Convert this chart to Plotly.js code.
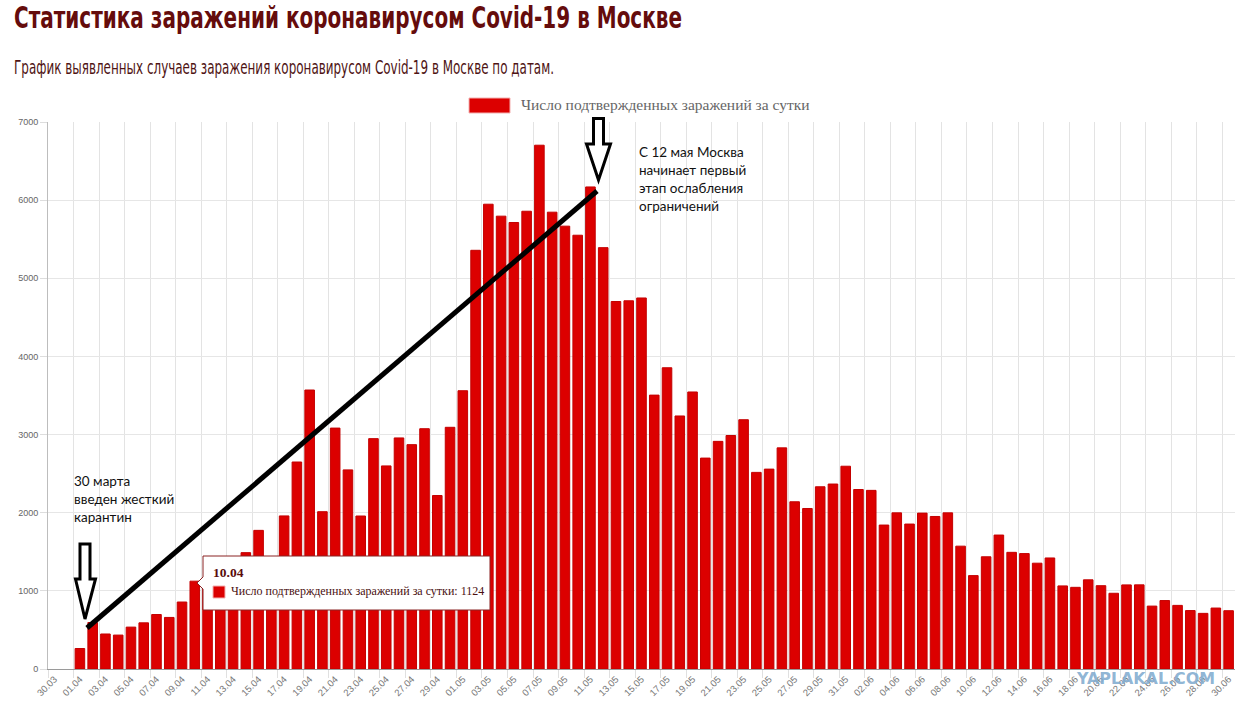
<!DOCTYPE html>
<html><head><meta charset="utf-8">
<script src="https://cdn.plot.ly/plotly-3.0.1.min.js"></script>
<style>html,body{margin:0;padding:0;background:#fff;overflow:hidden}#chart{width:1238px;height:708px}</style>
</head><body><div id="chart"></div>
<script>
const dates = ['30.03','31.03',
'01.04','02.04','03.04','04.04','05.04','06.04','07.04','08.04','09.04','10.04',
'11.04','12.04','13.04','14.04','15.04','16.04','17.04','18.04','19.04','20.04',
'21.04','22.04','23.04','24.04','25.04','26.04','27.04','28.04','29.04','30.04',
'01.05','02.05','03.05','04.05','05.05','06.05','07.05','08.05','09.05','10.05',
'11.05','12.05','13.05','14.05','15.05','16.05','17.05','18.05','19.05','20.05',
'21.05','22.05','23.05','24.05','25.05','26.05','27.05','28.05','29.05','30.05','31.05',
'01.06','02.06','03.06','04.06','05.06','06.06','07.06','08.06','09.06','10.06',
'11.06','12.06','13.06','14.06','15.06','16.06','17.06','18.06','19.06','20.06',
'21.06','22.06','23.06','24.06','25.06','26.06','27.06','28.06','29.06','30.06'];
const cases = [null,null,
262,595,448,434,536,591,697,660,857,1124,
1030,1355,1306,1489,1774,1370,1959,2649,3570,2013,
3083,2548,1958,2948,2599,2957,2871,3075,2220,3093,
3561,5358,5948,5795,5714,5858,6703,5846,5667,5551,
6169,5392,4703,4712,4748,3505,3855,3238,3545,2699,
2913,2988,3190,2516,2558,2830,2140,2054,2332,2367,2595,
2297,2286,1842,1998,1855,1995,1952,1998,1572,1195,
1436,1714,1493,1477,1354,1421,1063,1045,1141,1066,
969,1076,1077,805,876,814,748,712,780,746];
const yTicks = [0,1000,2000,3000,4000,5000,6000,7000];
const seriesName = 'Число подтвержденных заражений за сутки';
const tooltipDate = '10.04';
const titleText = 'Статистика заражений коронавирусом Covid-19 в Москве';
const subtitleText = 'График выявленных случаев заражения коронавирусом Covid-19 в Москве по датам.';
const note1 = ['30 марта','введен жесткий','карантин'];
const note2 = ['С 12 мая Москва','начинает первый','этап ослабления','ограничений'];
const watermark = 'YAPLAKAL.COM';

const L=48, R=1235, T=122, B=669;
function px(x){return (x-L)/(R-L);}
function py(y){return (B-y)/(B-T);}
function path(pts){return 'M '+pts.map(p=>px(p[0])+','+py(p[1])).join(' L ')+' Z';}

const idx = dates.map((d,i)=>i);
const major = idx.filter(i=>i%2===0);
const bounds = idx.filter(i=>i%2===0).map(i=>i-0.5);

const trace = {
  type:'bar', x: idx, y: cases, name: seriesName,
  marker:{color:'#dc0000', line:{color:'#c40000', width:1}},
  hoverinfo:'skip', showlegend:false
};

const ann = [];
function txt(x,y,text,font,anchor){ann.push({xref:'paper',yref:'paper',x:px(x),y:py(y),text:text,showarrow:false,xanchor:anchor||'left',yanchor:'middle',align:'left',font:font});}
txt(12,17,titleText,{family:'DejaVu Sans Condensed, DejaVu Sans, sans-serif',size:30,weight:700,color:'#650c0c'});
txt(12,67,subtitleText,{family:'DejaVu Sans Condensed, DejaVu Sans, sans-serif',size:19,color:'#4f1414'});
txt(519,105,seriesName,{family:'Liberation Serif, serif',size:15.5,color:'#666'});
note1.forEach((s,i)=>txt(72,481+i*18,s,{family:'Lato, Open Sans, sans-serif',size:13.5,color:'#111'}));
note2.forEach((s,i)=>txt(637,152+i*18,s,{family:'Lato, Open Sans, sans-serif',size:13.5,color:'#111'}));
// tooltip
const tipIdx = dates.indexOf(tooltipDate);
txt(211,572,tooltipDate,{family:'Liberation Serif, serif',size:13.5,weight:700,color:'#5a0c0c'});
txt(229,591,seriesName+': '+cases[tipIdx],{family:'Liberation Serif, serif',size:12,color:'#4a1010'});
// watermark
txt(1074,678,watermark,{family:'DejaVu Sans, sans-serif',size:16,weight:700,color:'rgba(130,172,208,0.9)'});

const shapes = [
  {type:'rect',xref:'paper',yref:'paper',x0:px(469),x1:px(510),y0:py(98),y1:py(113),fillcolor:'#dc0000',line:{color:'#f3b0b0',width:1}},
  {type:'path',xref:'paper',yref:'paper',path:path([[203,556],[490,556],[490,610],[203,610],[203,589],[197,583],[203,577]]),fillcolor:'#fff',line:{color:'#8a2323',width:1}},
  {type:'rect',xref:'paper',yref:'paper',x0:px(213),x1:px(225),y0:py(586),y1:py(598),fillcolor:'#dc0000',line:{color:'#f3b0b0',width:1}},
  {type:'line',xref:'paper',yref:'paper',x0:px(87),y0:py(628),x1:px(597),y1:py(191),line:{color:'#000',width:5}},
  {type:'path',xref:'paper',yref:'paper',path:path([[80,544],[90,544],[90,579],[95.5,579],[85,619],[75.5,579],[80,579]]),fillcolor:'#fff',line:{color:'#000',width:3}},
  {type:'path',xref:'paper',yref:'paper',path:path([[593.5,118.5],[603.5,118.5],[603.5,144],[610.5,144],[598.5,180],[586.5,144],[593.5,144]]),fillcolor:'#fff',line:{color:'#000',width:3}}
];

const layout = {
  width:1238, height:708,
  margin:{l:L, r:1238-R, t:T, b:708-B, pad:0},
  paper_bgcolor:'#fff', plot_bgcolor:'#fff',
  bargap:0.25,
  xaxis:{type:'linear', range:[-0.5, dates.length-0.5], tickmode:'array', tickvals:major, ticktext:major.map(i=>dates[i]),
    tickangle:-45, ticks:'', showgrid:false, zeroline:false, showline:true, linecolor:'#9a9a9a', linewidth:1,
    tickfont:{family:'Liberation Sans, sans-serif', size:9.5, color:'#777'},
    minor:{tickmode:'array', tickvals:bounds, showgrid:true, gridcolor:'#e3e3e3', gridwidth:1, ticks:'outside', ticklen:8, tickcolor:'#e0e0e0'}},
  yaxis:{range:[0,7000], tickmode:'array', tickvals:yTicks, showgrid:true, gridcolor:'#e6e6e6', zeroline:false,
    showline:true, linecolor:'#bdbdbd', ticks:'outside', ticklen:7, tickcolor:'#dddddd',
    tickfont:{family:'Liberation Sans, sans-serif', size:9, color:'#666'}},
  annotations: ann, shapes: shapes, showlegend:false
};
const fits = [[titleText, 668], [subtitleText, 540], [watermark, 138]];
Plotly.newPlot('chart',[trace],layout,{displayModeBar:false, staticPlot:true}).then(function(gd){
  gd.querySelectorAll('text.annotation-text').forEach(function(t){
    fits.forEach(function(f){
      if(t.textContent===f[0]){t.setAttribute('textLength',f[1]);t.setAttribute('lengthAdjust','spacingAndGlyphs');}
    });
  });
});
</script></body></html>
